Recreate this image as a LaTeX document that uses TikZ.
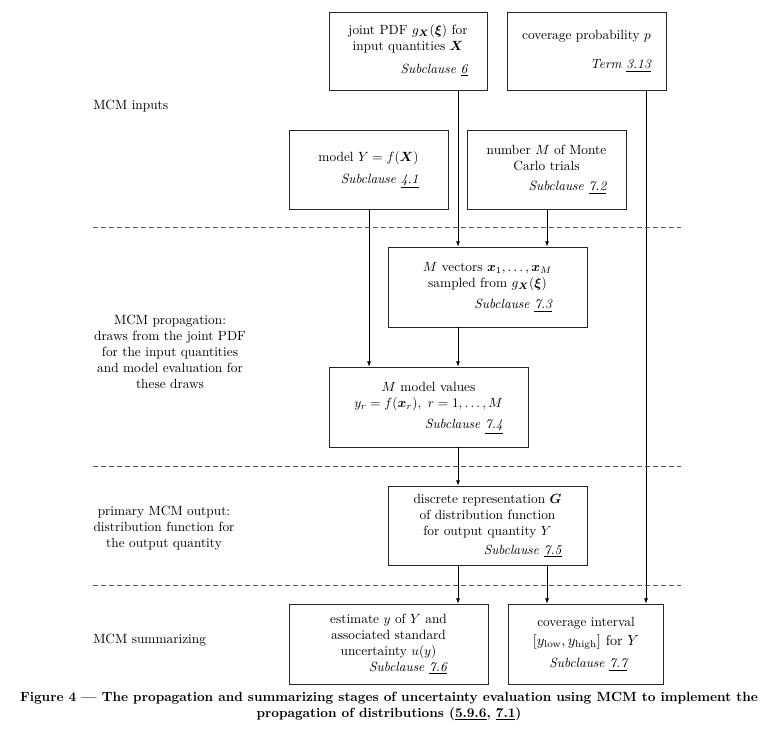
\documentclass[tikz,border=0pt]{standalone}
\usepackage{amsmath,bm}
\usetikzlibrary{arrows.meta}
\newcommand{\subcl}[2]{\textit{#1 \underline{#2}}}
\begin{document}
\begin{tikzpicture}[x=0.75pt,y=-0.75pt,
  box/.style={draw=black!85,line width=0.6pt,inner sep=0pt,align=center},
  arr/.style={-{Latex[length=4pt,width=3pt]},line width=0.5pt},
  sep/.style={black!65,line width=0.6pt,dash pattern=on 3.5pt off 2.5pt},
  lab/.style={align=center,inner sep=0pt}]
\useasboundingbox (0,0) rectangle (777,743);
% boxes
\node[box,minimum width=118.5pt,minimum height=58.5pt] (b1) at (408,51)
 {\begin{tabular}{@{}c@{}}joint PDF $g_{\bm X}(\bm\xi)$ for\\ input quantities $\bm X$\\[5pt]
  \multicolumn{1}{@{}r@{}}{\subcl{Subclause}{6}}\end{tabular}};
\node[box,minimum width=119.25pt,minimum height=58.5pt] (b2) at (586.5,51)
 {\begin{tabular}{@{}c@{}}coverage probability $p$\\[10pt]
  \multicolumn{1}{@{}r@{}}{\subcl{Term}{3.13}}\end{tabular}};
\node[box,minimum width=119.25pt,minimum height=59.25pt] (b3) at (368.5,169.5)
 {\begin{tabular}{@{}c@{}}model $Y=f(\bm X)$\\[4pt]
  \multicolumn{1}{@{}r@{}}{\subcl{Subclause}{4.1}}\end{tabular}};
\node[box,minimum width=119.25pt,minimum height=59.25pt] (b4) at (546.5,169.5)
 {\begin{tabular}{@{}c@{}}number $M$ of Monte\\ Carlo trials\\[3pt]
  \multicolumn{1}{@{}r@{}}{\subcl{Subclause}{7.2}}\end{tabular}};
\node[box,minimum width=149.25pt,minimum height=60pt] (b5) at (487.5,287)
 {\begin{tabular}{@{}c@{}}$M$ vectors $\bm x_1,\ldots,\bm x_M$\\ sampled from $g_{\bm X}(\bm\xi)$\\[4pt]
  \multicolumn{1}{@{}r@{}}{\subcl{Subclause}{7.3}}\end{tabular}};
\node[box,minimum width=149.25pt,minimum height=60pt] (b6) at (428.5,407)
 {\begin{tabular}{@{}c@{}}$M$ model values\\ $y_r=f(\bm x_r),\ r=1,\ldots,M$\\[4pt]
  \multicolumn{1}{@{}r@{}}{\subcl{Subclause}{7.4}}\end{tabular}};
\node[box,minimum width=149.25pt,minimum height=59.25pt] (b7) at (487.5,525.5)
 {\begin{tabular}{@{}c@{}}discrete representation $\bm G$\\ of distribution function\\ for output quantity $Y$\\[2pt]
  \multicolumn{1}{@{}r@{}}{\subcl{Subclause}{7.5}}\end{tabular}};
\node[box,minimum width=149.25pt,minimum height=60pt] (b8) at (388.5,644)
 {\begin{tabular}{@{}c@{}}estimate $y$ of $Y$ and\\ associated standard\\ uncertainty $u(y)$\\
  \multicolumn{1}{@{}r@{}}{\subcl{Subclause}{7.6}}\end{tabular}};
\node[box,minimum width=116.25pt,minimum height=60pt] (b9) at (586,644)
 {\begin{tabular}{@{}c@{}}coverage interval\\[2pt] {\fontsize{10.6pt}{13pt}\selectfont $[y_{\text{low}},y_{\text{high}}]$ for $Y$}\\[5pt]
  \multicolumn{1}{@{}r@{\hspace{9pt}}}{\subcl{Subclause}{7.7}}\end{tabular}};
% columns for connectors
\coordinate (c1) at (458,0);
\coordinate (c2) at (547,0);
\coordinate (c3) at (369,0);
\coordinate (c4) at (646,0);
\draw[arr] (b1.south -| c1) -- (b5.north -| c1);
\draw[arr] (b4.south -| c2) -- (b5.north -| c2);
\draw[arr] (b3.south -| c3) -- (b6.north -| c3);
\draw[arr] (b5.south -| c1) -- (b6.north -| c1);
\draw[arr] (b6.south -| c1) -- (b7.north -| c1);
\draw[arr] (b7.south -| c1) -- (b8.north -| c1);
\draw[arr] (b7.south -| c2) -- (b9.north -| c2);
\draw[arr] (b2.south -| c4) -- (b9.north -| c4);
% separators
\draw[sep] (93,227) -- (681,227);
\draw[sep] (93,466) -- (681,466);
\draw[sep] (93,585) -- (681,585);
% stage labels
\node[lab,anchor=west] (l1) at (93,106) {MCM inputs};
\node[lab] (l2) at (170,352) {MCM propagation:\\ draws from the joint PDF\\ for the input quantities\\ and model evaluation for\\ these draws};
\node[lab] (l3) at (164,528) {primary MCM output:\\ distribution function for\\ the output quantity};
\node[lab,anchor=west] (l4) at (93,640) {MCM summarizing};
% caption
\node[lab] (cap) at (389,706) {\bfseries Figure 4 --- The propagation and summarizing stages of uncertainty evaluation using MCM to implement the\\
 \bfseries propagation of distributions (\underline{5.9.6}, \underline{7.1})};
\end{tikzpicture}
\end{document}
